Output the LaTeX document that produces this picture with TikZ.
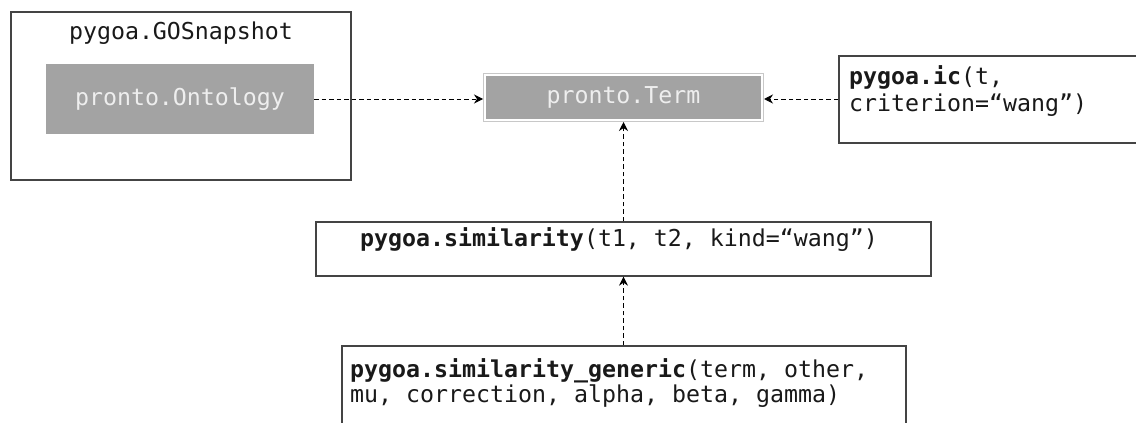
\documentclass[tikz,border=0pt]{standalone}
\usepackage{fontspec}
\setmonofont{DejaVu Sans Mono}
\usetikzlibrary{arrows.meta}
\definecolor{boxgray}{HTML}{A3A3A3}
\definecolor{bordergray}{HTML}{444444}
\definecolor{termborder}{HTML}{C8C8C8}
\definecolor{lighttext}{HTML}{EEEEEE}
\tikzset{
  txt/.style={font=\ttfamily\fontsize{23.25}{27}\selectfont, inner sep=0pt, text=black!90},
  frame/.style={draw=bordergray, line width=1.3pt, fill=white, inner sep=0pt},
  graybox/.style={fill=boxgray, inner sep=0pt, font=\ttfamily\fontsize{23.25}{27}\selectfont, text=lighttext},
  dep/.style={dashed, dash pattern=on 4.5pt off 3pt, line width=1pt, -{Stealth[length=9pt,width=9pt]}}
}
\begin{document}
\begin{tikzpicture}[x=1pt,y=-1pt]
\useasboundingbox (0,0) rectangle (1136,423);
% GOSnapshot container
\node[frame, minimum width=340pt, minimum height=168pt] (snap) at (181,96) {};
\node[txt, anchor=base] (snaptitle) at (181,39) {pygoa.GOSnapshot};
\node[graybox, minimum width=268pt, minimum height=70pt] (onto) at (180,99) {pronto.Ontology};
% Term
\node[graybox, draw=termborder, line width=1pt, minimum width=280pt, minimum height=48pt] (term) at (623.5,97.5) {pronto.Term};
\draw[white, line width=2pt] ([shift={(1.6,1.6)}]term.north west) rectangle ([shift={(-1.6,-1.6)}]term.south east);
% ic box
\node[frame, minimum width=301pt, minimum height=87pt] (ic) at (989.5,99.5) {};
\node[txt, anchor=base west] (ic1) at (849,84) {\textbf{pygoa.ic}(t,};
\node[txt, anchor=base west] (ic2) at (849,111) {criterion=“wang”)};
% similarity box
\node[frame, minimum width=615pt, minimum height=54pt] (sim) at (623.5,249) {};
\node[txt, anchor=base] (simtext) at (619,246) {\textbf{pygoa.similarity}(t1, t2, kind=“wang”)};
% generic box
\node[frame, minimum width=564pt, minimum height=90pt] (gen) at (624,391) {};
\node[txt, anchor=base west] (gen1) at (350,377) {\textbf{pygoa.similarity\_generic}(term, other,};
\node[txt, anchor=base west] (gen2) at (350,402) {mu, correction, alpha, beta, gamma)};
% connectors
\draw[dep] (onto.east) -- (onto.east -| term.west);
\draw[dep] (ic.west |- onto.east) -- (term.east |- onto.east);
\draw[dep] (sim.north -| term.south) -- (term.south);
\draw[dep] (gen.north -| term.south) -- (sim.south -| term.south);
\end{tikzpicture}
\end{document}
